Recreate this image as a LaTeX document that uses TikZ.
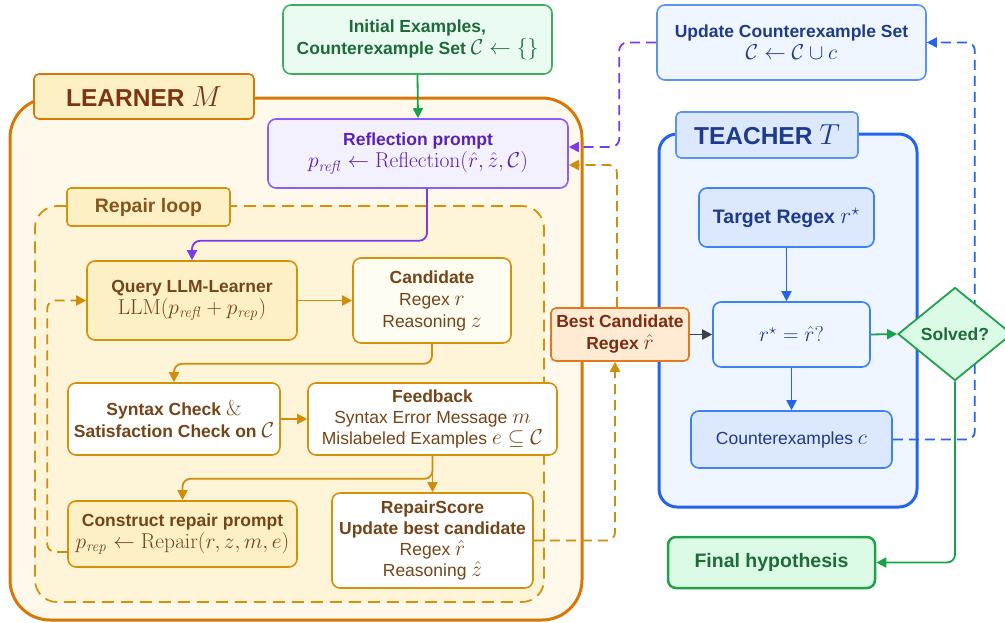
\RequirePackage{fix-cm}
\documentclass[tikz,border=0pt]{standalone}
\usepackage[no-math]{fontspec}
\setmainfont{Liberation Sans}
\usetikzlibrary{arrows.meta,shapes.geometric}
\DeclareMathSizes{17.5}{21.5}{15}{11}
\DeclareMathSizes{19.5}{23.5}{16.5}{12}
\DeclareMathSizes{24.5}{29}{20}{14}
\definecolor{learnD}{HTML}{D97706}
\definecolor{learnF}{HTML}{FFF9EB}
\definecolor{loopD}{HTML}{D4920C}
\definecolor{loopF}{HTML}{FEF4D8}
\definecolor{amberL}{HTML}{FEF0C5}
\definecolor{candF}{HTML}{FFFCF2}
\definecolor{titleBrown}{HTML}{7C3510}
\definecolor{brownT}{HTML}{744519}
\definecolor{loopT}{HTML}{87561A}
\definecolor{purpD}{HTML}{8B5CF6}
\definecolor{purpF}{HTML}{F4F1FF}
\definecolor{purpT}{HTML}{5B21B6}
\definecolor{purpC}{HTML}{7C3AED}
\definecolor{initD}{HTML}{3FAE62}
\definecolor{initF}{HTML}{EAFBF1}
\definecolor{greenD}{HTML}{1FA24A}
\definecolor{greenF}{HTML}{DCFBE6}
\definecolor{greenT}{HTML}{1E6B3A}
\definecolor{greenC}{HTML}{16A34A}
\definecolor{teachD}{HTML}{2563EB}
\definecolor{teachF}{HTML}{EFF6FF}
\definecolor{blueD}{HTML}{3B82F6}
\definecolor{blueL}{HTML}{DBE8FD}
\definecolor{blueT}{HTML}{1E3A8A}
\definecolor{updD}{HTML}{5B93F2}
\definecolor{blueC}{HTML}{2563EB}
\definecolor{bestD}{HTML}{E5781A}
\definecolor{bestF}{HTML}{FFEBD4}
\definecolor{bestT}{HTML}{7C2D12}
\definecolor{grayC}{HTML}{374151}
\definecolor{oraC}{HTML}{D08C0B}
\begin{document}
\begin{tikzpicture}[x=1pt,y=-1pt,
  base/.style={font=\fontsize{17.5}{22}\selectfont, align=center, inner sep=0pt},
  bx/.style={base, draw, rounded corners=8pt, line width=1.6pt},
  boldbx/.style={bx, font=\fontsize{17.5}{22}\selectfont\bfseries},
  amberbox/.style={bx, draw=loopD, fill=amberL, text=brownT},
  whitebox/.style={bx, draw=loopD, fill=white, text=brownT},
  conn/.style={line width=1.8pt, rounded corners=8pt, -{Triangle[length=10pt,width=10pt]}},
  dconn/.style={conn, dash pattern=on 10pt off 6pt},
]
\useasboundingbox (0,0) rectangle (1005,622);

% containers
\node[draw=learnD, fill=learnF, line width=3pt, rounded corners=40pt,
      minimum width=572, minimum height=522, inner sep=0pt] (learner) at (296,359) {};
\node[boldbx, draw=learnD, fill=amberL, text=titleBrown, rounded corners=5pt,
      minimum width=220, minimum height=45, font=\fontsize{24.5}{28}\selectfont\bfseries]
      (learnlab) at (144,96.5) {LEARNER $M$};
\node[draw=loopD, fill=loopF, line width=1.8pt, dash pattern=on 12pt off 7pt,
      rounded corners=22pt, minimum width=509, minimum height=396, inner sep=0pt] (loop) at (289.5,404) {};
\node[bx, draw=loopD, fill=amberL, text=loopT, rounded corners=4pt,
      minimum width=163, minimum height=38, font=\fontsize{19.5}{22}\selectfont\bfseries]
      (looplab) at (148.5,207) {Repair loop};

\node[draw=teachD, fill=teachF, line width=3pt, rounded corners=18pt,
      minimum width=258, minimum height=373, inner sep=0pt] (teacher) at (788,320.5) {};
\node[bx, draw=updD, fill=blueL, text=blueT, rounded corners=5pt,
      minimum width=182, minimum height=46, font=\fontsize{24.5}{28}\selectfont\bfseries]
      (teachlab) at (767,135) {TEACHER $T$};

% top boxes
\node[boldbx, draw=initD, fill=initF, text=greenT, minimum width=269, minimum height=69]
  (init) at (417.5,39.5) {Initial Examples,\\Counterexample Set $\mathcal{C}\leftarrow\{\}$};
\node[boldbx, draw=updD, fill=teachF, text=blueT, minimum width=269, minimum height=75]
  (upd) at (791.5,42.5) {Update Counterexample Set\\$\mathcal{C}\leftarrow\mathcal{C}\cup c$};

% learner boxes
\node[bx, draw=purpD, fill=purpF, text=purpT, minimum width=300, minimum height=69]
  (refl) at (418,153.5) {\textbf{Reflection prompt}\\$p_{\mathit{refl}}\leftarrow\mathrm{Reflection}(\hat{r},\hat{z},\mathcal{C})$};
\node[amberbox, minimum width=210, minimum height=79]
  (query) at (192,300.5) {\textbf{Query LLM-Learner}\\$\mathrm{LLM}(p_{\mathit{refl}}+p_{\mathit{rep}})$};
\node[bx, draw=loopD, fill=candF, text=brownT, minimum width=158, minimum height=85]
  (cand) at (432,300.5) {\textbf{Candidate}\\Regex $r$\\Reasoning $z$};
\node[whitebox, minimum width=212, minimum height=72]
  (syn) at (174,419) {\textbf{Syntax Check} $\&$\\\textbf{Satisfaction Check on} $\mathcal{C}$};
\node[whitebox, minimum width=249, minimum height=72, font=\fontsize{17.5}{21}\selectfont]
  (fb) at (432.5,419) {\textbf{Feedback}\\Syntax Error Message $m$\\Mislabeled Examples $e\subseteq\mathcal{C}$};
\node[amberbox, minimum width=229, minimum height=66]
  (cons) at (182.5,534) {\textbf{Construct repair prompt}\\$p_{\mathit{rep}}\leftarrow\mathrm{Repair}(r,z,m,e)$};
\node[whitebox, minimum width=201, minimum height=95, font=\fontsize{17.5}{21}\selectfont]
  (rs) at (432.5,540.5) {\textbf{RepairScore}\\\textbf{Update best candidate}\\Regex $\hat{r}$\\Reasoning $\hat{z}$};
\node[boldbx, draw=bestD, fill=bestF, text=bestT, rounded corners=5pt, minimum width=138, minimum height=53]
  (best) at (620,334.5) {Best Candidate\\Regex $\hat{r}$};

% teacher boxes
\node[bx, draw=blueD, fill=blueL, text=blueT, minimum width=175, minimum height=59,
      font=\fontsize{19.5}{22}\selectfont\bfseries]
  (target) at (786.5,217.5) {Target Regex $r^{\star}$};
\node[bx, draw=blueD, fill=teachF, text=blueT, minimum width=157, minimum height=65]
  (eq) at (791.5,334.5) {$r^{\star}=\hat{r}?$};
\node[bx, draw=blueD, fill=blueL, text=blueT, minimum width=201, minimum height=57]
  (cex) at (791.5,439.5) {Counterexamples $c$};
\node[bx, draw=greenD, fill=greenF, text=greenT, line width=2.5pt, minimum width=207, minimum height=51,
      font=\fontsize{19.5}{22}\selectfont\bfseries]
  (final) at (771.5,562.5) {Final hypothesis};

% connectors
\draw[conn, greenC] (init.south) -- (refl.north);
\draw[conn, purpC] ([xshift=9pt]refl.south) -- ++(0,52) -| (query.north);
\draw[conn, oraC] (query.east) -- (cand.west);
\draw[conn, oraC] (cand.south) -- ++(0,20) -| (syn.north);
\draw[conn, oraC] (syn.east) -- (fb.west);
\draw[conn, oraC] (fb.south) -- ++(0,23) -| (cons.north);
\draw[conn, oraC] (fb.south) -- (rs.north);
\draw[dconn, oraC] ([yshift=-18pt]cons.west) -- ++(-20,0) |- (query.west);
\draw[dconn, oraC] (rs.east) -| ([xshift=-5pt]best.south);
\draw[dconn, oraC] ([xshift=-3pt]best.north) |- ([yshift=-11.5pt]refl.east);
\draw[dconn, purpC] (upd.west) -- ++(-37,0) |- ([yshift=6.5pt]refl.east);
\draw[conn, grayC] (best.east) -- (eq.west);
\draw[conn, blueC] (target.south) -- (target.south |- eq.north);
\draw[conn, blueC] (eq.south) -- (cex.north);
\draw[dconn, blueC] (cex.east) -- ++(82,0) |- (upd.east);

\node[diamond, draw=greenD, fill=greenF, text=greenT, line width=1.8pt, inner sep=0pt,
      minimum width=114, minimum height=93, font=\fontsize{17.5}{22}\selectfont\bfseries]
  (solved) at (955,334) {Solved?};
\draw[conn, greenC] (eq.east) -- (solved.west);
\draw[conn, greenC] (solved.south) |- (final.east);
\end{tikzpicture}
\end{document}
